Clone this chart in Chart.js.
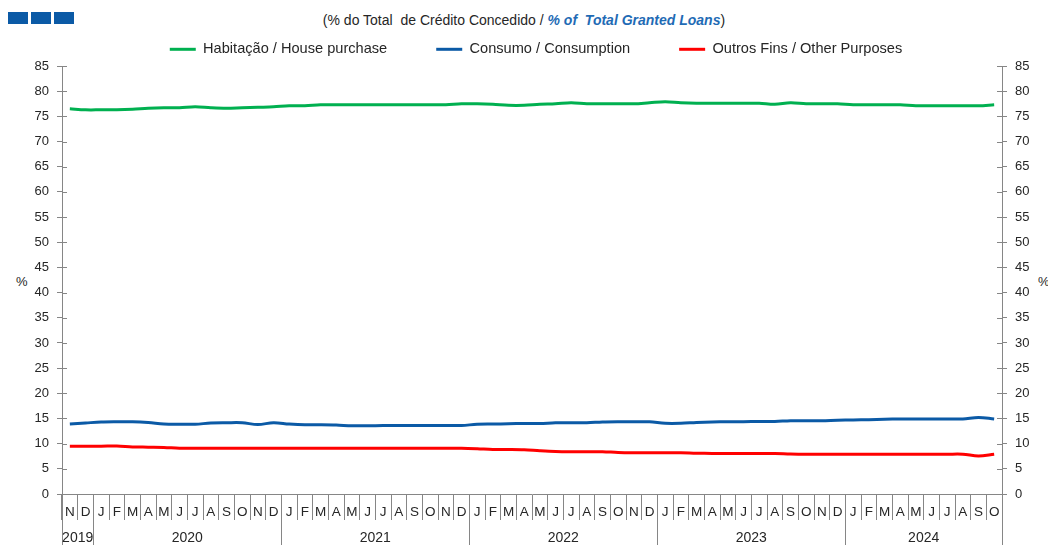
<!DOCTYPE html>
<html>
<head>
<meta charset="utf-8">
<script src="https://cdn.jsdelivr.net/npm/chart.js@4.4.1/dist/chart.umd.min.js"></script>
<style>
  html, body { margin:0; padding:0; background:#fff; }
  body { width:1048px; height:545px; overflow:hidden; position:relative;
         font-family:'Liberation Sans',Arial,sans-serif; color:#262626; }
  .sq { position:absolute; top:12px; width:20px; height:12px; background:#0B5AA6; }
  #sub { position:absolute; top:12px; left:0; width:1048px; text-align:center; font-size:14px; line-height:16px; color:#262626; }
  #sub span { color:#1F6BB5; font-weight:bold; font-style:italic; }
  .pct { position:absolute; top:274px; font-size:13px; line-height:15px; }
  #wrap { position:absolute; left:0; top:-7px; width:1048px; height:552px; }
</style>
</head>
<body>
<div class="sq" style="left:8px"></div>
<div class="sq" style="left:31px"></div>
<div class="sq" style="left:54px"></div>
<div id="sub">(% do Total&nbsp; de Crédito Concedido / <span>% of&nbsp; Total Granted Loans</span>)</div>
<div class="pct" style="left:16px">%</div>
<div class="pct" style="left:1038px">%</div>
<div id="wrap"><canvas id="c" width="1048" height="552"></canvas></div>
<script>
const months = ['N','D',
  'J','F','M','A','M','J','J','A','S','O','N','D',
  'J','F','M','A','M','J','J','A','S','O','N','D',
  'J','F','M','A','M','J','J','A','S','O','N','D',
  'J','F','M','A','M','J','J','A','S','O','N','D',
  'J','F','M','A','M','J','J','A','S','O'];
const years = ['2019','2020','2021','2022','2023','2024'];
const monthsPerYear = [2,12,12,12,12,10];

const habitacao = [76.5,76.3,76.3,76.3,76.4,76.6,76.7,76.7,76.9,76.7,76.6,76.7,76.8,76.9,
  77.1,77.1,77.3,77.3,77.3,77.3,77.3,77.3,77.3,77.3,77.3,77.5,
  77.5,77.4,77.2,77.2,77.4,77.5,77.7,77.5,77.5,77.5,77.5,77.7,
  77.9,77.7,77.6,77.6,77.6,77.6,77.6,77.4,77.7,77.5,77.5,77.5,
  77.3,77.3,77.3,77.3,77.1,77.1,77.1,77.1,77.1,77.3];
const consumo = [13.9,14.1,14.3,14.35,14.35,14.2,13.9,13.85,13.85,14.1,14.15,14.15,13.8,14.15,
  13.9,13.75,13.75,13.7,13.55,13.55,13.6,13.6,13.6,13.6,13.6,13.6,
  13.85,13.9,13.95,14.0,14.0,14.15,14.15,14.15,14.3,14.35,14.35,14.35,
  14.05,14.05,14.2,14.3,14.35,14.35,14.4,14.4,14.55,14.55,14.55,14.65,
  14.7,14.75,14.85,14.9,14.9,14.9,14.9,14.9,15.2,14.9];
const outros = [9.5,9.5,9.5,9.55,9.35,9.3,9.25,9.1,9.1,9.1,9.1,9.1,9.1,9.1,
  9.1,9.1,9.1,9.1,9.1,9.1,9.1,9.1,9.1,9.1,9.1,9.1,
  9.0,8.85,8.85,8.8,8.6,8.45,8.4,8.4,8.4,8.25,8.2,8.2,
  8.2,8.2,8.1,8.05,8.05,8.05,8.05,8.05,7.95,7.9,7.9,7.9,
  7.9,7.9,7.9,7.9,7.9,7.9,7.9,7.9,7.55,7.9];

const seriesNames = ['Habitação / House purchase','Consumo / Consumption','Outros Fins / Other Purposes'];
const seriesColors = ['#00B050','#0B5AA6','#FF0000'];

const FONT = "'Liberation Sans',Arial,sans-serif";
const AXIS = '#868686';
const TXT = '#262626';

const legendFit = {
  id: 'legendFit',
  beforeInit(chart) {
    const orig = chart.legend.fit;
    chart.legend.fit = function () { orig.bind(chart.legend)(); this.height = 73; };
  },
  afterLayout(chart) {
    chart.legend.left += 12;
    chart.legend.right += 12;
  }
};

const extras = {
  id: 'extras',
  afterDraw(chart) {
    const ctx = chart.ctx, xs = chart.scales.x, ys = chart.scales.y;
    const area = chart.chartArea;
    ctx.save();
    ctx.strokeStyle = AXIS; ctx.lineWidth = 1;
    ys.ticks.forEach(t => {
      const py = Math.round(ys.getPixelForValue(t.value)) + 0.5;
      ctx.beginPath();
      ctx.moveTo(area.left, py); ctx.lineTo(area.left + 5, py);
      ctx.moveTo(area.right - 5, py); ctx.lineTo(area.right, py);
      ctx.stroke();
    });
    const bottom = chart.height;
    let start = 0;
    const bounds = [0];
    monthsPerYear.forEach(n => { start += n; bounds.push(start); });
    bounds.forEach(b => {
      const px = Math.round(xs.getPixelForValue(b - 0.5)) + 0.5;
      ctx.beginPath(); ctx.moveTo(px, area.bottom); ctx.lineTo(px, bottom); ctx.stroke();
    });
    ctx.fillStyle = TXT;
    ctx.font = '14px ' + FONT;
    ctx.textAlign = 'center'; ctx.textBaseline = 'middle';
    years.forEach((y, i) => {
      const a = xs.getPixelForValue(bounds[i] - 0.5), b = xs.getPixelForValue(bounds[i + 1] - 0.5);
      ctx.fillText(y, (a + b) / 2, area.bottom + 44.5);
    });
    ctx.restore();
  }
};

function yAxis(pos, w) {
  return {
    type: 'linear', position: pos, min: 0, max: 85,
    ticks: { stepSize: 5, color: TXT, font: { family: FONT, size: 13 }, padding: 8 },
    grid: { display: true, drawOnChartArea: false, drawTicks: true, tickLength: 5, color: AXIS },
    border: { display: true, color: AXIS },
    afterFit(s) { s.width = w; }
  };
}

new Chart(document.getElementById('c'), {
  type: 'line',
  data: {
    labels: months,
    datasets: [habitacao, consumo, outros].map((d, i) => ({
      label: seriesNames[i], data: d,
      borderColor: seriesColors[i], backgroundColor: seriesColors[i],
      borderWidth: 3, pointRadius: 0, tension: 0.35, fill: false, yAxisID: 'y'
    }))
  },
  options: {
    responsive: false, animation: false, devicePixelRatio: 1,
    layout: { padding: 0 },
    plugins: {
      legend: {
        position: 'top', align: 'center',
        labels: {
          boxWidth: 26, boxHeight: 3, padding: 49, color: TXT,
          font: { family: FONT, size: 14.6 },
          generateLabels(chart) {
            const items = Chart.defaults.plugins.legend.labels.generateLabels(chart);
            items.forEach(it => { it.lineWidth = 0; });
            return items;
          }
        }
      },
      tooltip: { enabled: false }
    },
    scales: {
      x: {
        type: 'category', offset: true,
        ticks: { color: TXT, font: { family: FONT, size: 13.5 }, padding: -16, autoSkip: false, maxRotation: 0 },
        grid: { display: true, offset: true, drawOnChartArea: false, drawTicks: true, tickLength: 26, color: AXIS },
        border: { display: true, color: AXIS },
        afterFit(s) { s.height = 51; }
      },
      y: yAxis('left', 62),
      y2: yAxis('right', 46)
    }
  },
  plugins: [legendFit, extras]
});
</script>
</body>
</html>
